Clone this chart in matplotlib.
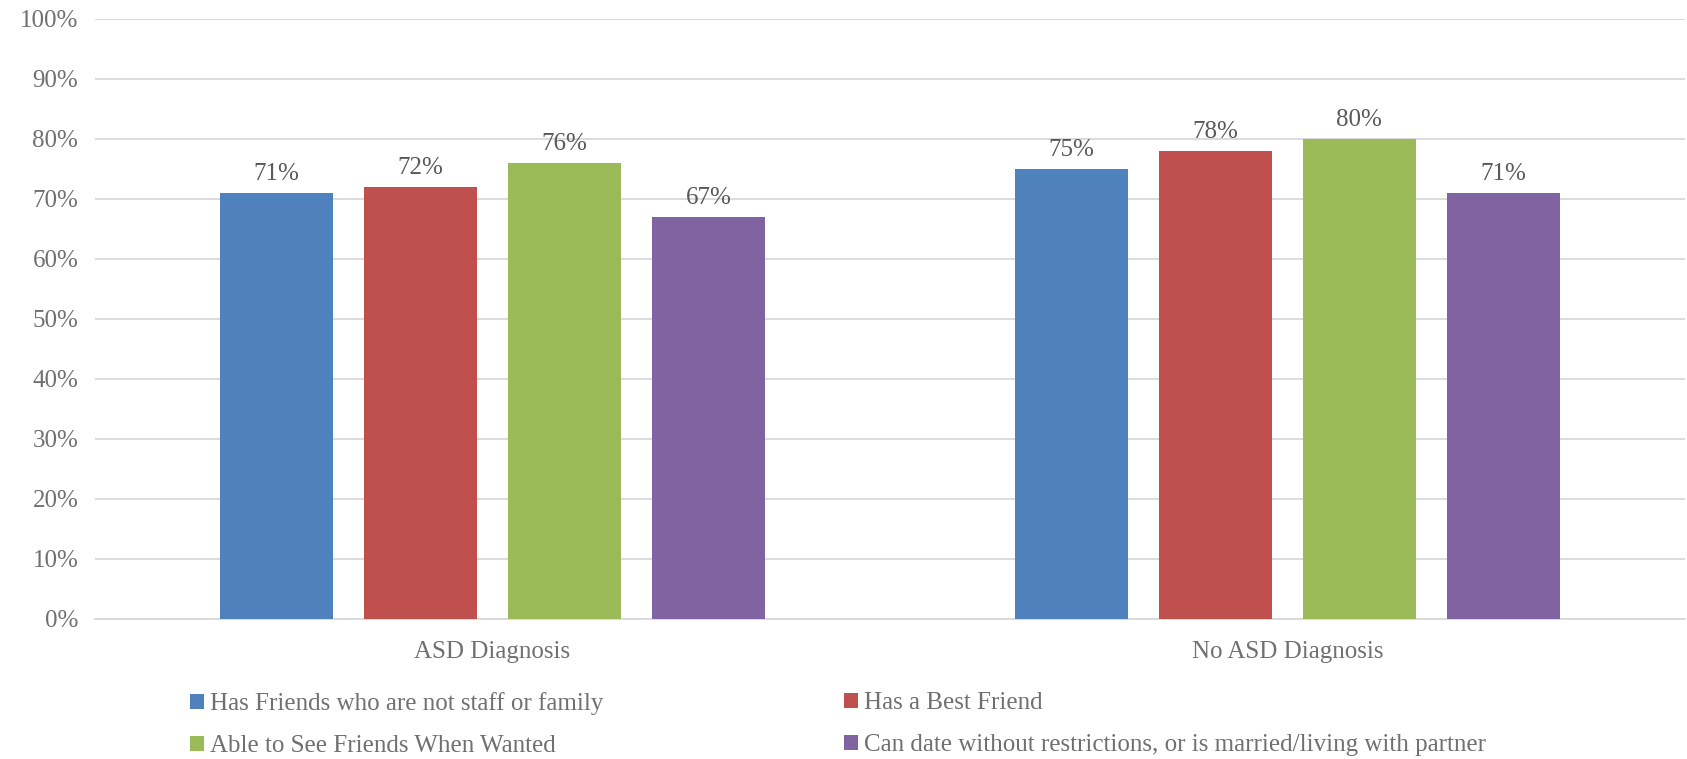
import matplotlib.pyplot as plt
import numpy as np

plt.rcParams['font.family'] = ['Liberation Serif', 'DejaVu Serif']

groups = ["ASD Diagnosis", "No ASD Diagnosis"]
series = [
    "Has Friends who are not staff or family",
    "Has a Best Friend",
    "Able to See Friends When Wanted",
    "Can date without restrictions, or is married/living with partner",
]
friends = [71, 75]
best_friend = [72, 78]
see_friends = [76, 80]
can_date = [67, 71]
colors = ["#4F81BD", "#C0504D", "#9BBB59", "#8064A2"]

values = [friends, best_friend, see_friends, can_date]
grey = "#707070"

fig = plt.figure(figsize=(16.87, 7.59), dpi=100)
ax = fig.add_axes([0.0563, 0.1845, 0.9425, 0.7905])

x = np.arange(len(groups))
width = 0.142
step = 0.181
bars = []
for i, (vals, c) in enumerate(zip(values, colors)):
    b = ax.bar(x + (i - 1.5) * step, vals, width, color=c, label=series[i], zorder=3)
    bars.append(b)
    for rect, v in zip(b, vals):
        ax.annotate(f"{v}%", (rect.get_x() + rect.get_width() / 2, v),
                    xytext=(0, 6), textcoords="offset points",
                    ha="center", va="bottom", fontsize=18, color="#595959")

ax.set_xlim(-0.5, 1.5)
ax.set_ylim(0, 100)
ax.set_yticks(range(0, 101, 10))
ax.set_yticklabels([f"{t}%" for t in range(0, 101, 10)])
ax.set_xticks(x)
ax.set_xticklabels(groups)
ax.tick_params(axis="both", length=0, labelsize=18, colors=grey)
ax.tick_params(axis="x", pad=16)
ax.tick_params(axis="y", pad=12)
ax.yaxis.grid(True, color="#D9D9D9", linewidth=1.3, zorder=0)
for s in ["top", "right", "left"]:
    ax.spines[s].set_visible(False)
ax.spines["bottom"].set_color("#D9D9D9")
ax.spines["bottom"].set_linewidth(1.3)

leg_kw = dict(frameon=False, fontsize=18, handlelength=0.55, handleheight=0.55,
              handletextpad=0.25, labelspacing=0.82, labelcolor=grey,
              loc="upper left", borderaxespad=0, borderpad=0)
fig.legend([bars[0], bars[2]], [series[0], series[2]],
           bbox_to_anchor=(190 / 1687, 1 - 692 / 759), **leg_kw)
fig.legend([bars[1], bars[3]], [series[1], series[3]],
           bbox_to_anchor=(844 / 1687, 1 - 692 / 759), **leg_kw)

fig.savefig("out.png", dpi=100)
